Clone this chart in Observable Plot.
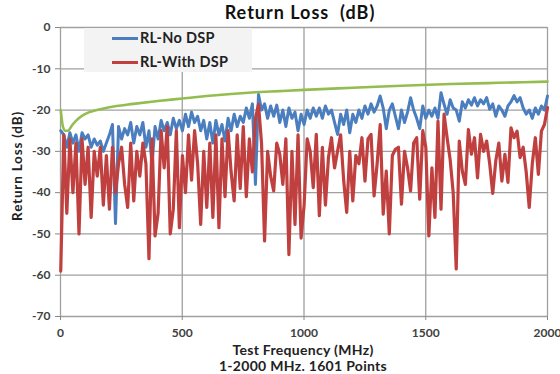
<!DOCTYPE html>
<html>
<head>
<meta charset="utf-8">
<script src="https://cdn.jsdelivr.net/npm/d3@7"></script>
<script src="https://cdn.jsdelivr.net/npm/@observablehq/plot@0.6"></script>
<style>
  html, body { margin: 0; padding: 0; background: #fff; }
  #wrap { position: relative; width: 560px; height: 374px; font-family: Lato, "Open Sans", sans-serif; font-weight: bold; color: #222; }
  #wrap svg { position: absolute; left: 0; top: 0; }
  .lbl { position: absolute; white-space: pre; font-weight: bold; }
  #title { left: 0; width: 600px; top: 1px; text-align: center; font-size: 18px; letter-spacing: 1px; color: #111; }
  #xl1 { left: 0; width: 606px; top: 341px; text-align: center; font-size: 14px; letter-spacing: 0.3px; }
  #xl2 { left: 0; width: 606px; top: 357px; text-align: center; font-size: 14px; letter-spacing: 0.3px; }
  #yl { left: 17px; top: 166px; font-size: 13.5px; letter-spacing: 0.8px; transform: translate(-50%, -50%) rotate(-90deg); }
  #legend { position: absolute; left: 84px; top: 28px; width: 168px; height: 44px; background: #f3f3f3; }
  .lg { position: absolute; left: 28px; width: 26px; height: 3px; }
  .lt { position: absolute; left: 56px; font-size: 14.5px; font-weight: bold; color: #222; letter-spacing: 0.3px; }
</style>
</head>
<body>
<div id="wrap">
  <div id="legend">
    <div class="lg" style="top:9px;background:#4a7ebf"></div><div class="lt" style="top:1px">RL-No DSP</div>
    <div class="lg" style="top:33px;background:#c0403f"></div><div class="lt" style="top:25px">RL-With DSP</div>
  </div>
  <div class="lbl" id="title">Return Loss  (dB)</div>
  <div class="lbl" id="xl1">Test Frequency (MHz)</div>
  <div class="lbl" id="xl2">1-2000 MHz. 1601 Points</div>
  <div class="lbl" id="yl">Return Loss (dB)</div>
</div>
<script>
// Sampled every ~12.5 MHz from 1 to 2000 MHz (161 samples)
const noDsp = [
  -25, -26, -29, -25.5, -28, -26, -30, -25.5, -27, -26,
  -29, -27, -28.5, -27.5, -30, -28, -26, -23.5, -47.5, -24,
  -27, -24.5, -26, -23, -28, -24, -26, -23, -29, -25,
  -33, -24, -27, -22.5, -25, -23, -26, -22, -24.5, -22.5,
  -25,
  -21, -24, -20.5, -23, -21.5, -25, -22.5, -27, -23, -28,
  -22.5, -26, -23.5, -27.5, -22, -25, -21, -24, -21.5, -23,
  -19.5, -22, -18.5, -38, -16.2, -20, -18.5, -22, -19, -21.5,
  -18.8, -23, -20, -24, -19.5, -22, -20.5, -25, -21, -23.5,
  -20,
  -22, -19.5, -21.5, -19.5, -22, -19, -21, -20, -23,
  -25.9, -21, -23.5, -20, -25.5, -21, -23, -20, -22, -19,
  -21, -18.5, -20.5, -19, -16.6, -19.5, -24.5, -20, -18.5, -21.5,
  -24.5, -20, -23, -20.5, -17, -20, -22, -24.5, -19, -22,
  -20,
  -21.5, -19.5, -22, -15.8, -18.6, -21, -17.5, -19.5, -20,
  -22.7, -18, -19.5, -17.5, -18.8, -17, -19, -17.5, -18.5, -17,
  -19.8, -18.5, -21.5, -19, -20, -21.5, -19, -18, -16.5, -18,
  -17, -19.5, -21, -20, -22, -19.5, -21, -19, -20, -16.6
];
const withDsp = [
  -59, -26, -45, -27, -40, -28, -50, -27, -38, -29,
  -46, -30, -36, -29, -43, -31, -44, -29, -40, -33,
  -29, -38, -43.6, -28, -42, -30, -36, -28, -33, -56,
  -27, -50.5, -45, -25, -34, -24, -50, -44, -25, -48.5,
  -31,
  -40, -26, -37, -25, -33, -47.7, -30, -43.6, -28, -46,
  -26, -48.5, -27, -41, -25, -35, -42, -26, -39, -24,
  -41, -27, -35, -22, -18.6, -28, -51.7, -30, -36, -39.6,
  -28, -30.7, -38, -27, -55, -30, -47.7, -26, -51, -43,
  -27,
  -30, -38.8, -25.9, -45.6, -29, -43, -31.5, -26.7, -34,
  -29.9, -26, -37, -44.8, -30, -42, -31, -33, -26.7, -37.2,
  -27, -25.9, -40.8, -33, -23.5, -45.2, -34.8, -50, -31, -29.5,
  -29, -42.8, -30, -34, -39.6, -28, -26.7, -41.6, -25, -29,
  -50.5,
  -34, -46, -22.7, -44, -21, -26.7, -32, -40, -58.5,
  -27.5, -34.8, -38, -24.7, -30.7, -26.7, -36.4, -25.9, -30, -27.5,
  -33, -40.2, -32.3, -28, -37.2, -30.7, -37.5, -24.3, -26.7, -25.1,
  -31.5, -29, -35, -43.6, -33, -26.7, -35.6, -25.1, -23.5, -19.4
];
// Limit line (green)
const limitFreq = [1, 10, 20, 30, 50, 75, 100, 150, 200, 300, 400, 500, 600, 700, 800, 900, 1000, 1200, 1400, 1600, 1800, 2000];
const limitDb   = [-20, -24, -25, -25, -23.5, -22, -21, -20, -19.3, -18.5, -17.8, -17.2, -16.6, -16.1, -15.7, -15.4, -15.1, -14.6, -14.1, -13.7, -13.4, -13.1];

const xTicks = [0, 500, 1000, 1500, 2000];
const yTicks = [0, -10, -20, -30, -40, -50, -60, -70];

const fStart = 1, fEnd = 2000;
const step = (fEnd - fStart) / (noDsp.length - 1);
const blue = noDsp.map((v, i) => ({f: fStart + i * step, v}));
const red = withDsp.map((v, i) => ({f: fStart + i * step, v}));
const green = limitFreq.map((f, i) => ({f, v: limitDb[i]}));

const chart = Plot.plot({
  width: 560,
  height: 374,
  marginLeft: 60,
  marginRight: 13,
  marginTop: 27,
  marginBottom: 58,
  style: {fontFamily: "Lato, 'Open Sans', sans-serif", fontSize: "12px", fontWeight: "bold", color: "#404040", background: "transparent"},
  x: {domain: [0, 2000]},
  y: {domain: [-70, 0]},
  marks: [
    Plot.gridX(xTicks, {stroke: "#a0a0a0", strokeOpacity: 1, strokeWidth: 1.3}),
    Plot.gridY(yTicks, {stroke: "#a0a0a0", strokeOpacity: 1, strokeWidth: 1.3}),
    Plot.axisX(xTicks, {tickSize: 4, tickPadding: 8, label: null, stroke: "#888", tickFormat: d => String(d)}),
    Plot.axisY(yTicks, {tickSize: 5, tickPadding: 5, label: null, stroke: "#888", tickFormat: d => String(d)}),
    Plot.line(blue, {x: "f", y: "v", stroke: "#4a7ebf", strokeWidth: 3, strokeLinejoin: "round"}),
    Plot.line(red, {x: "f", y: "v", stroke: "#c0403f", strokeWidth: 3.2, strokeLinejoin: "round"}),
    Plot.line(green, {x: "f", y: "v", stroke: "#93bd4f", strokeWidth: 2.6, curve: "monotone-x"})
  ]
});
document.getElementById("wrap").prepend(chart);
</script>
</body>
</html>
